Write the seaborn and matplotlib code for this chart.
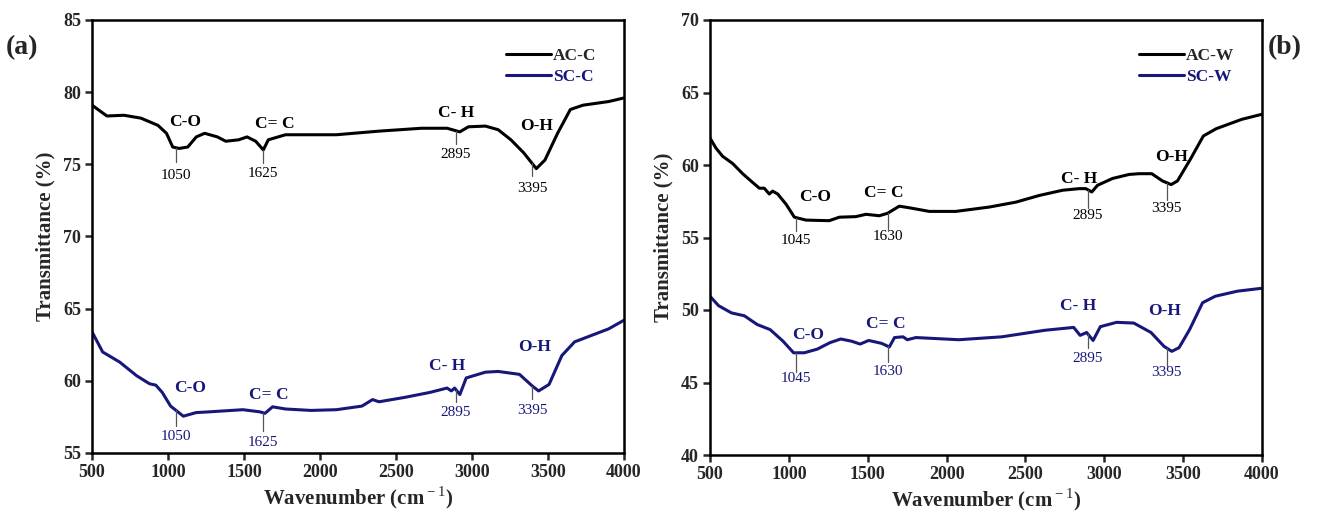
import numpy as np
import pandas as pd
import matplotlib
matplotlib.use("Agg")
import matplotlib.pyplot as plt
import seaborn as sns

# ---- FTIR spectra (wavenumber in cm-1, transmittance in %) ----
ac_c_x = [500, 598, 710, 822, 934, 990, 1031, 1073, 1130, 1186, 1241, 1325, 1380, 1465,
          1520, 1577, 1627, 1660, 1773, 2108, 2388, 2668, 2836, 2920, 2976, 3088, 3172,
          3256, 3340, 3423, 3480, 3563, 3647, 3731, 3899, 4000]
ac_c_y = [79.1, 78.35, 78.4, 78.2, 77.7, 77.15, 76.2, 76.1, 76.2, 76.9, 77.15, 76.9, 76.6, 76.7,
          76.9, 76.6, 76.0, 76.7, 77.05, 77.05, 77.3, 77.5, 77.5, 77.25, 77.6, 77.65, 77.4,
          76.7, 75.8, 74.7, 75.3, 77.15, 78.8, 79.1, 79.35, 79.6]

sc_c_x = [500, 570, 682, 794, 878, 920, 962, 1017, 1101, 1185, 1269, 1493, 1605, 1638, 1688,
          1772, 1940, 2108, 2276, 2346, 2388, 2556, 2724, 2836, 2864, 2886, 2920, 2962, 3088,
          3172, 3312, 3396, 3438, 3507, 3591, 3675, 3787, 3899, 4000]
sc_c_y = [63.4, 62.0, 61.3, 60.35, 59.8, 59.7, 59.2, 58.25, 57.55, 57.8, 57.85, 58.0, 57.85, 57.75,
          58.2, 58.05, 57.95, 58.0, 58.25, 58.7, 58.55, 58.85, 59.2, 59.5, 59.3, 59.5, 59.05,
          60.2, 60.6, 60.65, 60.45, 59.65, 59.3, 59.75, 61.75, 62.7, 63.15, 63.6, 64.2]

ac_w_x = [500, 538, 580, 644, 707, 770, 813, 844, 876, 897, 929, 982, 1035, 1109, 1256, 1320,
          1425, 1489, 1573, 1626, 1700, 1764, 1890, 2059, 2271, 2440, 2588, 2736, 2841, 2883,
          2921, 2957, 3052, 3158, 3221, 3301, 3369, 3424, 3464, 3546, 3628, 3709, 3872, 4000]
ac_w_y = [61.86, 61.16, 60.6, 60.1, 59.4, 58.8, 58.4, 58.4, 58.0, 58.2, 58.0, 57.3, 56.4, 56.2,
          56.16, 56.4, 56.44, 56.6, 56.5, 56.67, 57.16, 57.05, 56.8, 56.8, 57.1, 57.44, 57.9,
          58.26, 58.37, 58.37, 58.14, 58.6, 59.07, 59.35, 59.4, 59.4, 58.9, 58.65, 58.9, 60.4,
          62.0, 62.5, 63.15, 63.5]

sc_w_x = [500, 554, 636, 718, 799, 881, 963, 1030, 1098, 1180, 1261, 1329, 1397, 1452, 1506,
          1588, 1637, 1670, 1724, 1751, 1806, 2078, 2350, 2622, 2806, 2847, 2888, 2929, 2975,
          3078, 3187, 3296, 3378, 3428, 3474, 3541, 3623, 3704, 3845, 4000]
sc_w_y = [50.95, 50.3, 49.8, 49.6, 49.0, 48.65, 47.85, 47.05, 47.05, 47.3, 47.75, 48.0, 47.85,
          47.65, 47.9, 47.7, 47.45, 48.1, 48.15, 47.95, 48.1, 47.95, 48.15, 48.6, 48.8, 48.25,
          48.45, 47.9, 48.85, 49.15, 49.1, 48.45, 47.5, 47.15, 47.4, 48.65, 50.5, 50.95, 51.3, 51.5]

# Band assignments: (group, peak wavenumber)
bands_c = [("C-O", 1050), ("C= C", 1625), ("C- H", 2895), ("O-H", 3395)]
bands_w = [("C-O", 1045), ("C= C", 1630), ("C- H", 2895), ("O-H", 3395)]

x_ticks = [500, 1000, 1500, 2000, 2500, 3000, 3500, 4000]
y_ticks_a = [55, 60, 65, 70, 75, 80, 85]
y_ticks_b = [40, 45, 50, 55, 60, 65, 70]

BLACK = "#000000"
NAVY = "#17177a"
SERIF = "Liberation Serif"

sns.set_style("ticks")
plt.rcParams["font.family"] = [SERIF, "DejaVu Serif"]
plt.rcParams["mathtext.fontset"] = "custom"
plt.rcParams["mathtext.rm"] = SERIF
plt.rcParams["mathtext.bf"] = SERIF + ":bold"

W, H = 1331, 516
fig = plt.figure(figsize=(W / 100, H / 100), dpi=100)


def px_axes(x0, x1, y0, y1):
    return fig.add_axes([x0 / W, 1 - y1 / H, (x1 - x0) / W, (y1 - y0) / H])


ax_a = px_axes(92, 624, 20, 453)
ax_b = px_axes(710, 1262, 20, 455)


def draw_panel(ax, name1, x1, y1, name2, x2, y2, yticks):
    df = pd.concat([
        pd.DataFrame({"wn": x1, "T": y1, "sample": name1}),
        pd.DataFrame({"wn": x2, "T": y2, "sample": name2}),
    ], ignore_index=True)
    sns.lineplot(data=df, x="wn", y="T", hue="sample", palette=[BLACK, NAVY],
                 linewidth=2.2, sort=False, ax=ax, legend=False)
    ax.set_xlim(500, 4000)
    ax.set_ylim(yticks[0], yticks[-1])
    ax.set_xticks(x_ticks)
    ax.set_yticks(yticks)
    for s in ax.spines.values():
        s.set_visible(True)
        s.set_linewidth(1.8)
        s.set_color("black")
    ax.tick_params(direction="out", length=5, width=1.8, labelsize=13, pad=3)
    for lab in ax.get_xticklabels() + ax.get_yticklabels():
        lab.set_fontweight("bold")
    ax.set_xlabel(r"Wavenumber (cm$^{\rm -1}$)", fontsize=15, fontweight="bold", labelpad=2)
    ax.set_ylabel("Transmittance (%)", fontsize=15, fontweight="bold", labelpad=5)
    handles = [plt.Line2D([], [], color=BLACK, lw=2.2), plt.Line2D([], [], color=NAVY, lw=2.2)]
    leg = ax.legend(handles, [name1, name2], loc="upper right", frameon=False,
                    prop={"family": SERIF, "weight": "bold", "size": 12.5},
                    handlelength=2.6, handletextpad=0.1, labelspacing=0.3,
                    borderaxespad=1.2)
    leg.get_texts()[1].set_color(NAVY)


def annotate(ax, xs, ys, bands, color, offsets):
    # offsets: (group dx, group dy, tick length, number dy) per band
    for (grp, wn), (gdx, gdy, tl, ndy) in zip(bands, offsets):
        y0 = float(np.interp(wn, xs, ys))
        ax.plot([wn, wn], [y0, y0 - tl], color="#555555", lw=0.9)
        ax.text(wn + gdx, y0 + gdy, grp, ha="center", va="center", color=color,
                fontsize=12.5, fontweight="bold")
        ax.text(wn, y0 - tl - ndy, str(wn), ha="center", va="center", color=color,
                fontsize=11)


draw_panel(ax_a, "AC-C", ac_c_x, ac_c_y, "SC-C", sc_c_x, sc_c_y, y_ticks_a)
draw_panel(ax_b, "AC-W", ac_w_x, ac_w_y, "SC-W", sc_w_x, sc_w_y, y_ticks_b)

annotate(ax_a, ac_c_x, ac_c_y, bands_c, BLACK,
         [(65, 1.75, 1.0, 0.9), (80, 1.8, 0.9, 0.75), (0, 1.25, 0.9, 0.75), (30, 2.6, 0.85, 0.9)])
annotate(ax_a, sc_c_x, sc_c_y, bands_c, NAVY,
         [(95, 1.5, 1.1, 0.75), (35, 1.25, 1.25, 0.8), (-60, 1.65, 0.85, 0.75), (15, 2.7, 0.95, 0.75)])
annotate(ax_b, ac_w_x, ac_w_y, bands_w, BLACK,
         [(120, 1.4, 0.95, 0.6), (-30, 1.4, 1.1, 0.55), (-55, 0.75, 1.25, 0.55), (30, 1.75, 1.2, 0.55)])
annotate(ax_b, sc_w_x, sc_w_y, bands_w, NAVY,
         [(80, 1.2, 1.3, 0.5), (-15, 1.55, 1.1, 0.65), (-60, 1.95, 0.95, 0.75), (-10, 2.55, 1.25, 0.45)])

fig.text(6 / W, 1 - 48 / H, "(a)", fontsize=20, fontweight="bold", ha="left", va="center")
fig.text(1268 / W, 1 - 48 / H, "(b)", fontsize=20, fontweight="bold", ha="left", va="center")

fig.savefig("out.png", dpi=100)
